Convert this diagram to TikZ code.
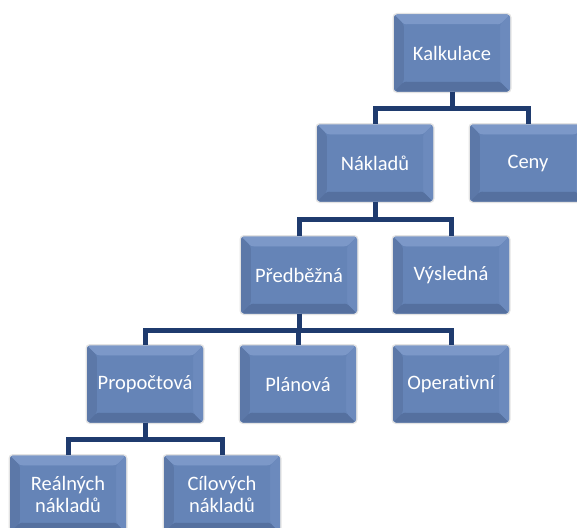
\documentclass[tikz,border=0pt]{standalone}
\usepackage{fontspec}
\setmainfont[Ligatures=NoCommon]{Carlito}
\definecolor{face}{HTML}{6584B7}
\definecolor{bevtop}{HTML}{7C98C8}
\definecolor{bevleft}{HTML}{5C78A8}
\definecolor{bevbot}{HTML}{55709F}
\definecolor{bevright}{HTML}{6C8ABD}
\definecolor{conncol}{HTML}{1F3B6E}
\tikzset{
  box/.style={minimum width=116pt, minimum height=77pt, rounded corners=3pt,
    fill=face, text=white, font=\fontsize{20.5}{22}\selectfont, align=center,
    inner sep=0pt, preaction={draw=gray!22, line width=3pt},
    path picture={
      \fill[bevtop] (path picture bounding box.north west) -- (path picture bounding box.north east)
        -- ([shift={(-10pt,-10pt)}]path picture bounding box.north east) -- ([shift={(10pt,-10pt)}]path picture bounding box.north west) -- cycle;
      \fill[bevleft] (path picture bounding box.north west) -- ([shift={(10pt,-10pt)}]path picture bounding box.north west)
        -- ([shift={(10pt,10pt)}]path picture bounding box.south west) -- (path picture bounding box.south west) -- cycle;
      \fill[bevbot] (path picture bounding box.south west) -- ([shift={(10pt,10pt)}]path picture bounding box.south west)
        -- ([shift={(-10pt,10pt)}]path picture bounding box.south east) -- (path picture bounding box.south east) -- cycle;
      \fill[bevright] (path picture bounding box.north east) -- ([shift={(-10pt,-10pt)}]path picture bounding box.north east)
        -- ([shift={(-10pt,10pt)}]path picture bounding box.south east) -- (path picture bounding box.south east) -- cycle;
      \fill[face] ([shift={(10pt,-10pt)}]path picture bounding box.north west) rectangle ([shift={(-10pt,10pt)}]path picture bounding box.south east);
    }},
  conn/.style={draw=conncol, line width=5pt}
}
\begin{document}
\begin{tikzpicture}[x=1pt,y=-1pt]
\useasboundingbox (0,0) rectangle (577,527);
\node[box] (K) at (452,53) {Kalkulace};
\node[box] (N) at (375,163) {Nákladů};
\node[box] (C) at (528,163) {Ceny};
\node[box] (P) at (299,275) {Předběžná};
\node[box] (V) at (451,275) {Výsledná};
\node[box] (Pr) at (145,384) {Propočtová};
\node[box] (Pl) at (298,384) {Plánová};
\node[box] (O) at (451,384) {Operativní};
\node[box] (R) at (68,494) {Reálných\\nákladů};
\node[box] (Ci) at (222,494) {Cílových\\nákladů};
\draw[conn] (K.south) -- ++(0,17) -| (N.north);
\draw[conn] (K.south) -- ++(0,17) -| (C.north);
\draw[conn] (N.south) -- ++(0,18) -| (P.north);
\draw[conn] (N.south) -- ++(0,18) -| (V.north);
\draw[conn] (P.south) -- ++(0,17) -| (Pr.north);
\draw[conn] (P.south) -- ++(0,17) -| (Pl.north);
\draw[conn] (P.south) -- ++(0,17) -| (O.north);
\draw[conn] (Pr.south) -- ++(0,17) -| (R.north);
\draw[conn] (Pr.south) -- ++(0,17) -| (Ci.north);
\end{tikzpicture}
\end{document}
